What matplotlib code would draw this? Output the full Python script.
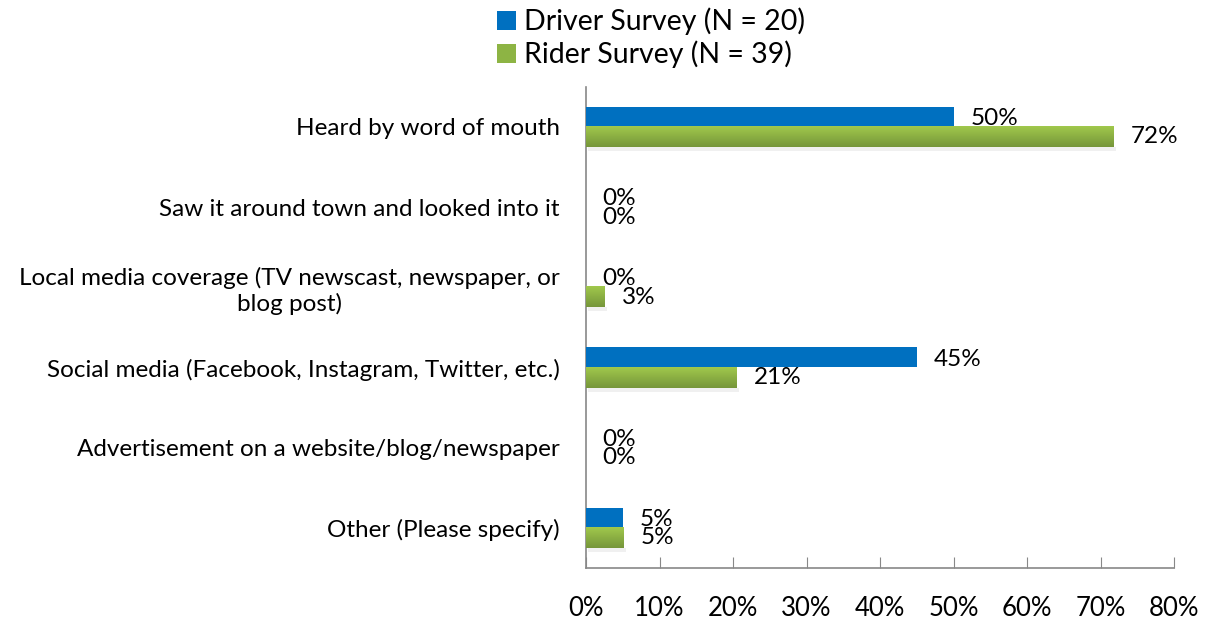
import numpy as np
import matplotlib
matplotlib.use("Agg")
import matplotlib.pyplot as plt
from matplotlib.colors import LinearSegmentedColormap
from matplotlib.patches import Patch

plt.rcParams["font.family"] = ["Lato", "DejaVu Sans"]

categories = [
    "Heard by word of mouth",
    "Saw it around town and looked into it",
    "Local media coverage (TV newscast, newspaper, or\nblog post)",
    "Social media (Facebook, Instagram, Twitter, etc.)",
    "Advertisement on a website/blog/newspaper",
    "Other (Please specify)",
]
driver = [50.0, 0.0, 0.0, 45.0, 0.0, 5.0]
rider = [71.8, 0.0, 2.56, 20.51, 0.0, 5.13]
series_names = ["Driver Survey (N = 20)", "Rider Survey (N = 39)"]

BLUE = "#0070C0"
GREEN_TOP = "#A0C84C"
GREEN_BOT = "#76963A"
FS = 17.5

fig = plt.figure(figsize=(12.08, 6.21), dpi=100)
ax = fig.add_axes([0.4851, 0.0853, 0.4868, 0.775])

n = len(categories)
y = np.arange(n)
h = 0.25
green_cmap = LinearSegmentedColormap.from_list("g", [GREEN_TOP, GREEN_BOT])
grad = np.linspace(0, 1, 64).reshape(-1, 1)

for i in range(n):
    yb = y[i] - h / 2
    yg = y[i] + h / 2
    if driver[i] > 0:
        ax.barh(yb, driver[i], height=h, color=BLUE, zorder=3)
    if rider[i] > 0:
        # gradient green bar
        ax.imshow(grad, extent=[0, rider[i], yg + h / 2, yg - h / 2],
                  cmap=green_cmap, aspect="auto", zorder=3, interpolation="bilinear")
        # light shadow under the bar
        ax.barh(yg + h / 2 + 0.025, rider[i], height=0.05, left=0.3,
                color="#000000", alpha=0.06, zorder=2, linewidth=0)
    ax.annotate(f"{driver[i]:.0f}%", (driver[i], yb + 0.02), xytext=(12, 0),
                textcoords="offset points", va="center", ha="left", fontsize=FS, zorder=4)
    ax.annotate(f"{rider[i]:.0f}%", (rider[i], yg), xytext=(12, 0),
                textcoords="offset points", va="center", ha="left", fontsize=FS, zorder=4)

ax.set_xlim(0, 80)
ax.set_ylim(n - 0.5, -0.5)
ax.set_yticks(y)
ax.set_yticklabels(categories, fontsize=FS, multialignment="center")
ax.tick_params(axis="y", length=0, pad=19)
ax.set_xticks(np.arange(0, 81, 10))
ax.set_xticklabels([f"{v}%" for v in range(0, 81, 10)], fontsize=18.5)
ax.tick_params(axis="x", direction="in", length=8, color="#888888", pad=20)

for s in ["top", "right"]:
    ax.spines[s].set_visible(False)
for s in ["left", "bottom"]:
    ax.spines[s].set_color("#888888")
    ax.spines[s].set_linewidth(1.2)

handles = [Patch(facecolor=BLUE), Patch(facecolor="#8DB444")]
fig.legend(handles, series_names, loc="upper center", bbox_to_anchor=(0.539, 1.02),
           ncol=1, frameon=False, fontsize=20.5, handlelength=0.65, handleheight=0.65,
           handletextpad=0.3, labelspacing=0.2, borderpad=0.2)

fig.savefig("out.png", dpi=100)
